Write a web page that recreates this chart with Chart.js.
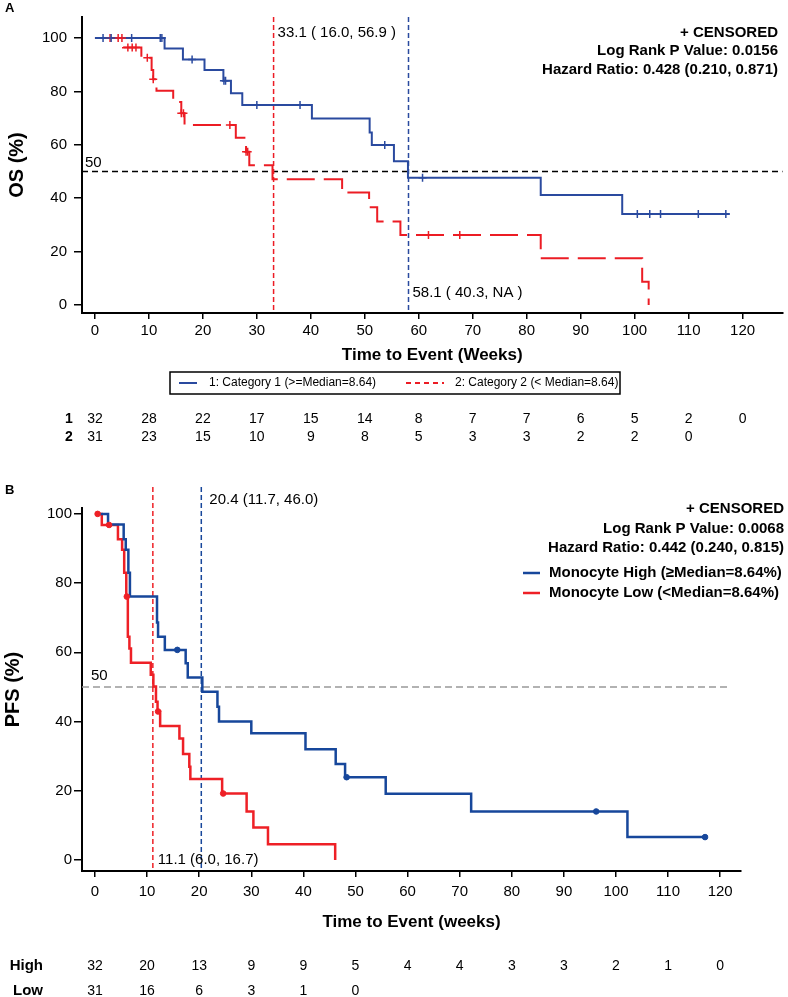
<!DOCTYPE html>
<html>
<head>
<meta charset="utf-8">
<script src="https://cdn.jsdelivr.net/npm/chart.js@4.4.1/dist/chart.umd.min.js"></script>
<style>
  body { margin: 0; background: #fff; }
  #wrap { position: relative; width: 788px; height: 997px; }
  canvas { position: absolute; left: 0; }
</style>
</head>
<body>
<div id="wrap">
  <canvas id="os" width="788" height="460" style="top:0"></canvas>
  <canvas id="pfs" width="788" height="537" style="top:460px"></canvas>
</div>
<script>
var FONT = "'Liberation Sans', Arial, sans-serif";

var X_TICKS = [0, 10, 20, 30, 40, 50, 60, 70, 80, 90, 100, 110, 120];
var Y_TICKS = [0, 20, 40, 60, 80, 100];

// ---- A: OS ----
var OS_CAT1_TIME = [0, 12.9, 16.3, 20.3, 23.8, 25.2, 27.3, 40.2, 50.9, 51.3, 55.4, 58.0, 82.6, 97.7, 117.6];
var OS_CAT1_SURV = [100, 96.1, 92.0, 88.0, 84.0, 79.3, 74.9, 69.9, 64.6, 59.9, 53.9, 47.7, 41.2, 34.1, 34.1];
var OS_CAT1_CENSOR = [1.5, 3.0, 6.8, 12.1, 12.4, 18.0, 23.9, 24.2, 30.0, 38.0, 53.7, 60.7, 100.5, 102.8, 104.8, 111.8, 116.9];

var OS_CAT2_TIME = [0, 5.2, 8.6, 10.5, 10.8, 11.4, 14.5, 16.0, 16.6, 26.1, 28.0, 28.6, 32.9, 45.8, 50.8, 52.3, 56.6, 82.6, 101.4, 102.6];
var OS_CAT2_SURV = [100, 96.5, 92.6, 88.0, 84.6, 80.3, 76.1, 71.8, 67.4, 62.7, 57.4, 52.4, 47.1, 42.1, 36.6, 31.3, 26.2, 17.5, 8.7, 0];
var OS_CAT2_CENSOR = [2.8, 4.3, 5.0, 6.1, 6.9, 7.6, 9.7, 10.8, 16.0, 16.4, 25.0, 28.0, 28.3, 61.8, 67.6];

var OS_MEDIANS = [33.1, 58.1];
var OS_MEDIAN_LABELS = ['33.1 ( 16.0, 56.9 )', '58.1 ( 40.3, NA )'];
var OS_STATS = ['+ CENSORED', 'Log Rank P Value: 0.0156', 'Hazard Ratio: 0.428 (0.210, 0.871)'];
var OS_LEGEND = ['1: Category 1 (>=Median=8.64)', '2: Category 2 (< Median=8.64)'];
var OS_RISK_LABELS = ['1', '2'];
var OS_RISK_CAT1 = [32, 28, 22, 17, 15, 14, 8, 7, 7, 6, 5, 2, 0];
var OS_RISK_CAT2 = [31, 23, 15, 10, 9, 8, 5, 3, 3, 2, 2, 0];

// ---- B: PFS ----
var PFS_HIGH_TIME = [0, 2.5, 5.5, 5.9, 6.4, 6.7, 11.9, 12.1, 13.4, 17.4, 17.8, 20.6, 23.5, 23.8, 30.0, 40.4, 46.2, 48.0, 55.8, 72.2, 102.2, 117.1];
var PFS_HIGH_SURV = [100, 96.9, 92.7, 89.6, 83.0, 76.1, 68.6, 64.5, 60.7, 56.8, 52.7, 48.6, 44.3, 40.0, 36.6, 32.0, 27.7, 23.9, 19.1, 14.0, 6.6, 6.6];
var PFS_HIGH_CENSOR = [15.8, 48.3, 96.2, 117.1];

var PFS_LOW_TIME = [0, 1.3, 4.4, 5.2, 5.6, 6.0, 6.3, 6.6, 6.9, 10.7, 11.2, 11.7, 12.0, 12.5, 16.2, 16.9, 18.1, 18.3, 24.4, 29.1, 30.4, 33.2, 46.1];
var PFS_LOW_SURV = [100, 96.8, 92.7, 89.6, 83.0, 76.1, 64.5, 61.1, 57.0, 53.5, 50.1, 45.7, 42.9, 38.7, 35.1, 30.6, 26.9, 23.4, 19.2, 14.0, 9.4, 4.5, 0];
var PFS_LOW_CENSOR = [0.5, 2.7, 6.1, 12.1, 24.6];

var PFS_MEDIANS = [11.1, 20.4];
var PFS_MEDIAN_LABELS = ['11.1 (6.0, 16.7)', '20.4 (11.7, 46.0)'];
var PFS_STATS = ['+ CENSORED', 'Log Rank P Value: 0.0068', 'Hazard Ratio: 0.442 (0.240, 0.815)'];
var PFS_LEGEND = ['Monocyte High (\u2265Median=8.64%)', 'Monocyte Low (<Median=8.64%)'];
var PFS_RISK_LABELS = ['High', 'Low'];
var PFS_RISK_HIGH = [32, 20, 13, 9, 9, 5, 4, 4, 3, 3, 2, 1, 0];
var PFS_RISK_LOW = [31, 16, 6, 3, 1, 0];

var BLUE_A = '#2a4a9f', RED_A = '#ec1c24';
var BLUE_B = '#17479b', RED_B = '#ee2026';

function toPoints(times, values) {
    var pts = [];
    for (var i = 0; i < times.length; i++) {
        pts.push({x: times[i], y: values[i]});
    }
    return pts;
}

// censor marks sit on the curve: look up the step value at that time
function censorPoints(censor, times, values) {
    return censor.map(function(t) {
        var v = values[0];
        for (var i = 0; i < times.length; i++) {
            if (times[i] <= t) v = values[i];
        }
        return {x: t, y: v};
    });
}

function decor(cfg) {
    return {
        id: 'decor_' + cfg.name,
        beforeDatasetsDraw: function(chart) {
            var ctx = chart.ctx, area = chart.chartArea;
            var xs = chart.scales.x, ys = chart.scales.y;
            ctx.save();
            ctx.lineWidth = 1.5;
            var y50 = ys.getPixelForValue(50);
            ctx.strokeStyle = cfg.halfColor;
            ctx.setLineDash(cfg.halfDash);
            ctx.beginPath();
            ctx.moveTo(area.left, y50);
            ctx.lineTo(cfg.halfEnd ? xs.getPixelForValue(cfg.halfEnd) : area.right, y50);
            ctx.stroke();
            ctx.setLineDash([5, 3]);
            cfg.medians.forEach(function(m, i) {
                var x = xs.getPixelForValue(m);
                ctx.strokeStyle = cfg.medianColors[i];
                ctx.beginPath();
                ctx.moveTo(x, area.top - cfg.overhang);
                ctx.lineTo(x, area.bottom);
                ctx.stroke();
            });
            ctx.restore();
        },
        afterDraw: function(chart) {
            var ctx = chart.ctx, area = chart.chartArea;
            var xs = chart.scales.x, ys = chart.scales.y;
            ctx.save();
            ctx.fillStyle = '#000';
            ctx.textBaseline = 'middle';

            // panel letter
            ctx.font = 'bold 13px ' + FONT;
            ctx.textAlign = 'left';
            ctx.fillText(cfg.panel, 5, cfg.panelY);

            // 50 label and median labels
            ctx.font = '15px ' + FONT;
            ctx.fillText('50', area.left + cfg.halfLabel[0], ys.getPixelForValue(50) + cfg.halfLabel[1]);
            cfg.medians.forEach(function(m, i) {
                var pos = cfg.medianLabelPos[i];
                var y = pos[2] === 'top' ? area.top + pos[1] : area.bottom + pos[1];
                ctx.fillText(cfg.medianLabels[i], xs.getPixelForValue(m) + pos[0], y);
            });

            // stats block, top right
            ctx.font = 'bold 15px ' + FONT;
            ctx.textAlign = 'right';
            cfg.stats.forEach(function(s, i) {
                ctx.fillText(s, cfg.statsX, cfg.statsY[i]);
            });

            // legend
            var lg = cfg.legend;
            ctx.textAlign = 'left';
            ctx.font = lg.font;
            if (lg.box) {
                ctx.lineWidth = 1.5;
                ctx.strokeStyle = '#000';
                ctx.strokeRect(lg.box[0], lg.box[1], lg.box[2], lg.box[3]);
            }
            lg.items.forEach(function(it, i) {
                ctx.strokeStyle = it.color;
                ctx.lineWidth = it.width;
                ctx.setLineDash(it.dash);
                ctx.beginPath();
                ctx.moveTo(it.x0, it.y);
                ctx.lineTo(it.x1, it.y);
                ctx.stroke();
                ctx.setLineDash([]);
                ctx.fillStyle = '#000';
                ctx.fillText(cfg.legendText[i], it.tx, it.y);
            });

            // numbers at risk
            var rk = cfg.risk;
            rk.rows.forEach(function(row, r) {
                ctx.font = 'bold ' + rk.labelSize + 'px ' + FONT;
                ctx.textAlign = rk.labelAlign;
                ctx.fillText(rk.labels[r], rk.labelX, rk.y[r]);
                ctx.font = '14px ' + FONT;
                ctx.textAlign = 'center';
                row.forEach(function(n, k) {
                    ctx.fillText(String(n), xs.getPixelForValue(X_TICKS[k]), rk.y[r]);
                });
            });
            ctx.restore();
        }
    };
}

function makeChart(id, opt) {
    var datasets = [
        {data: censorPoints(opt.censor1, opt.time1, opt.surv1), showLine: false, pointStyle: opt.markStyle,
         pointRadius: opt.markRadius, borderColor: opt.color1, backgroundColor: opt.color1, borderWidth: opt.markWidth},
        {data: censorPoints(opt.censor2, opt.time2, opt.surv2), showLine: false, pointStyle: opt.markStyle,
         pointRadius: opt.markRadius, borderColor: opt.color2, backgroundColor: opt.color2, borderWidth: opt.markWidth},
        {data: toPoints(opt.time1, opt.surv1), stepped: true, borderColor: opt.color1, borderWidth: opt.lineWidth,
         pointRadius: 0, fill: false},
        {data: toPoints(opt.time2, opt.surv2), stepped: true, borderColor: opt.color2, borderWidth: opt.lineWidth,
         borderDash: opt.dash2, pointRadius: 0, fill: false}
    ];
    return new Chart(document.getElementById(id), {
        type: 'line',
        data: {datasets: datasets},
        options: {
            responsive: false,
            animation: false,
            layout: {padding: opt.padding},
            plugins: {legend: {display: false}, tooltip: {enabled: false}},
            scales: {
                x: {
                    type: 'linear', min: opt.xMin, max: opt.xMax,
                    afterFit: function(s) { s.height = opt.xHeight; },
                    afterBuildTicks: function(s) { s.ticks = X_TICKS.map(function(v) { return {value: v}; }); },
                    grid: {drawOnChartArea: false, tickLength: 6, color: '#000', lineWidth: 1.5},
                    border: {color: '#000', width: 2},
                    ticks: {color: '#000', font: {family: FONT, size: 15}, padding: opt.xTickPad, maxRotation: 0, autoSkip: false},
                    title: {display: true, text: opt.xTitle, color: '#000', font: {family: FONT, size: 17, weight: 'bold'}}
                },
                y: {
                    type: 'linear', min: opt.yMin, max: opt.yMax,
                    afterFit: function(s) { s.width = 82; },
                    afterBuildTicks: function(s) { s.ticks = Y_TICKS.map(function(v) { return {value: v}; }); },
                    grid: {drawOnChartArea: false, tickLength: 8, color: '#000', lineWidth: 1.5},
                    border: {color: '#000', width: 2},
                    ticks: {color: '#000', font: {family: FONT, size: 15}, padding: opt.yTickPad},
                    title: {display: true, text: opt.yTitle, color: '#000', padding: {top: opt.yTitlePad, bottom: 0},
                            font: {family: FONT, size: 20, weight: 'bold'}}
                }
            }
        },
        plugins: [opt.decor]
    });
}

makeChart('os', {
    time1: OS_CAT1_TIME, surv1: OS_CAT1_SURV, censor1: OS_CAT1_CENSOR,
    time2: OS_CAT2_TIME, surv2: OS_CAT2_SURV, censor2: OS_CAT2_CENSOR,
    color1: BLUE_A, color2: RED_A, lineWidth: 2, dash2: [28, 9],
    markStyle: 'cross', markRadius: 4, markWidth: 1.5,
    padding: {left: 0, top: 17, right: 3, bottom: 90},
    xMin: -2.4, xMax: 127.4, yMin: -3, yMax: 107.9,
    xHeight: 57, xTickPad: 3, yTickPad: 7, yTitlePad: 5,
    xTitle: 'Time to Event (Weeks)', yTitle: 'OS (%)',
    decor: decor({
        name: 'os', panel: 'A', panelY: 8,
        halfColor: '#000', halfDash: [6, 4], halfEnd: null, halfLabel: [3, -9],
        medians: OS_MEDIANS, medianColors: [RED_A, BLUE_A], overhang: 0,
        medianLabels: OS_MEDIAN_LABELS, medianLabelPos: [[4, 16, 'top'], [4, -20, 'bottom']],
        stats: OS_STATS, statsX: 778, statsY: [33, 51, 70],
        legendText: OS_LEGEND,
        legend: {
            font: '12px ' + FONT, box: [170, 372, 450, 22],
            items: [
                {x0: 179, x1: 197, tx: 209, y: 383, color: BLUE_A, width: 2, dash: []},
                {x0: 406, x1: 444, tx: 455, y: 383, color: RED_A, width: 2, dash: [5, 4]}
            ]
        },
        risk: {labels: OS_RISK_LABELS, rows: [OS_RISK_CAT1, OS_RISK_CAT2], y: [419, 437],
               labelX: 69, labelAlign: 'center', labelSize: 14}
    })
});

makeChart('pfs', {
    time1: PFS_HIGH_TIME, surv1: PFS_HIGH_SURV, censor1: PFS_HIGH_CENSOR,
    time2: PFS_LOW_TIME, surv2: PFS_LOW_SURV, censor2: PFS_LOW_CENSOR,
    color1: BLUE_B, color2: RED_B, lineWidth: 2.5, dash2: [],
    markStyle: 'circle', markRadius: 2.8, markWidth: 1,
    padding: {left: 0, top: 48, right: 47, bottom: 60},
    xMin: -2.5, xMax: 124, yMin: -3.2, yMax: 101.7,
    xHeight: 66, xTickPad: 6, yTickPad: 2, yTitlePad: 1,
    xTitle: 'Time to Event (weeks)', yTitle: 'PFS (%)',
    decor: decor({
        name: 'pfs', panel: 'B', panelY: 30,
        halfColor: '#999', halfDash: [7, 4], halfEnd: 121.5, halfLabel: [9, -11],
        medians: PFS_MEDIANS, medianColors: [RED_B, BLUE_B], overhang: 21,
        medianLabels: PFS_MEDIAN_LABELS, medianLabelPos: [[5, -11, 'bottom'], [8, -8, 'top']],
        stats: PFS_STATS, statsX: 784, statsY: [49, 69, 88],
        legendText: PFS_LEGEND,
        legend: {
            font: 'bold 15px ' + FONT, box: null,
            items: [
                {x0: 523, x1: 540, tx: 549, y: 113, color: BLUE_B, width: 2.5, dash: []},
                {x0: 523, x1: 540, tx: 549, y: 133, color: RED_B, width: 2.5, dash: []}
            ]
        },
        risk: {labels: PFS_RISK_LABELS, rows: [PFS_RISK_HIGH, PFS_RISK_LOW], y: [506, 531],
               labelX: 43, labelAlign: 'right', labelSize: 15}
    })
});
</script>
</body>
</html>
